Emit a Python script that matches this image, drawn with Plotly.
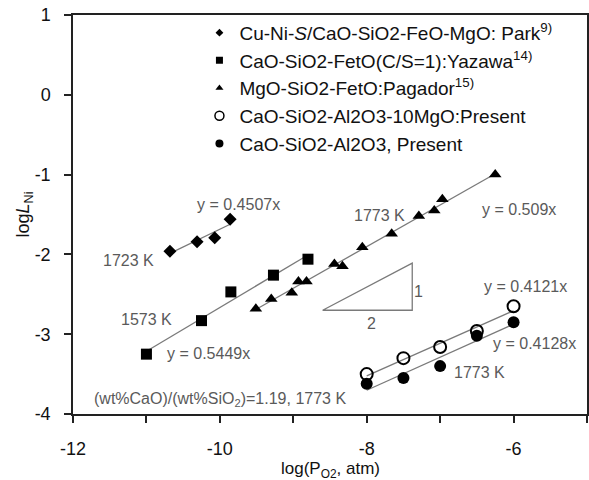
import numpy as np
import plotly.graph_objects as go

# ---------------- data ----------------
park_x = [-10.68, -10.31, -10.07, -9.86]
park_y = [-1.96, -1.84, -1.79, -1.56]

yazawa_x = [-11.0, -10.25, -9.85, -9.27, -8.8]
yazawa_y = [-3.25, -2.83, -2.47, -2.26, -2.06]

pagador_x = [-9.51, -9.30, -9.02, -8.93, -8.82, -8.44, -8.33, -8.06, -7.66, -7.29, -7.08, -6.97, -6.25]
pagador_y = [-2.68, -2.56, -2.48, -2.34, -2.34, -2.12, -2.15, -1.91, -1.74, -1.52, -1.45, -1.31, -1.00]

mgo_x = [-8.0, -7.5, -7.0, -6.5, -6.0]
mgo_y = [-3.50, -3.30, -3.16, -2.96, -2.65]

pres_x = [-8.0, -7.5, -7.0, -6.5, -6.0]
pres_y = [-3.62, -3.55, -3.40, -3.02, -2.85]

legend_names = [
    "Cu-Ni-<i>S</i>/CaO-SiO2-FeO-MgO: Park<sup>9)</sup>",
    "CaO-SiO2-FetO(C/S=1):Yazawa<sup>14)</sup>",
    "MgO-SiO2-FetO:Pagador<sup>15)</sup>",
    "CaO-SiO2-Al2O3-10MgO:Present",
    "CaO-SiO2-Al2O3, Present",
]

x_ticks = [-12, -10, -8, -6]
x_labels = ["-12", "-10", "-8", "-6"]
y_ticks = [1, 0, -1, -2, -3, -4]
y_labels = ["1", "0", "-1", "-2", "-3", "-4"]

FONT = "Liberation Sans, Arial, sans-serif"
LINE_C = "#7a7a7a"
TXT_C = "#5a5a5a"

fig = go.Figure()

series = [
    (park_x, park_y, dict(symbol="diamond", size=10, color="black"), dict(symbol="diamond", size=6, color="black")),
    (yazawa_x, yazawa_y, dict(symbol="square", size=11, color="black"), dict(symbol="square", size=7, color="black")),
    (pagador_x, pagador_y, dict(symbol="triangle-up", size=11, color="black"), dict(symbol="triangle-up", size=7, color="black")),
    (mgo_x, mgo_y, dict(symbol="circle-open", size=12, color="black", line=dict(width=2)), dict(symbol="circle-open", size=9, color="black", line=dict(width=1.5))),
    (pres_x, pres_y, dict(symbol="circle", size=12, color="black"), dict(symbol="circle", size=8, color="black")),
]

# regression lines (from data)
for xs, ys, _, _ in series:
    xs_a = np.array(xs); ys_a = np.array(ys)
    k, b = np.polyfit(xs_a, ys_a, 1)
    xl = np.array([xs_a.min(), xs_a.max()])
    fig.add_trace(go.Scatter(x=xl, y=k * xl + b, mode="lines",
                             line=dict(color=LINE_C, width=1.3),
                             showlegend=False, hoverinfo="skip"))

for (xs, ys, mk, _), name in zip(series, legend_names):
    fig.add_trace(go.Scatter(x=xs, y=ys, mode="markers", marker=mk,
                             name=name, showlegend=False))

# legend-only entries with small symbols
for (_, _, _, lmk), name in zip(series, legend_names):
    fig.add_trace(go.Scatter(x=[None], y=[None], mode="markers", marker=lmk,
                             name=name, showlegend=True))

# slope triangle 1:2
fig.add_shape(type="path", path="M -8.60,-2.70 L -7.38,-2.70 L -7.38,-2.11 Z",
              line=dict(color=LINE_C, width=1.3))

ann = [
    (-9.75, -1.37, "y = 0.4507x", 16),
    (-11.24, -2.08, "1723 K", 16),
    (-11.0, -2.81, "1573 K", 16),
    (-10.16, -3.24, "y = 0.5449x", 16),
    (-7.83, -1.51, "1773 K", 16),
    (-5.93, -1.44, "y = 0.509x", 16),
    (-5.84, -2.40, "y = 0.4121x", 16),
    (-5.72, -3.12, "y = 0.4128x", 16),
    (-6.46, -3.48, "1773 K", 16),
    (-7.30, -2.47, "1", 16),
    (-7.93, -2.87, "2", 16),
    (-10.0, -3.82, "(wt%CaO)/(wt%SiO<sub>2</sub>)=1.19, 1773 K", 16),
]
for x, y, t, s in ann:
    fig.add_annotation(x=x, y=y, text=t, showarrow=False,
                       font=dict(family=FONT, size=s, color=TXT_C),
                       xanchor="center", yanchor="middle")

# x-axis title
fig.add_annotation(xref="paper", yref="paper", x=0.5, y=-0.141,
                   text="log(P<sub>O2</sub>, atm)", showarrow=False,
                   font=dict(family=FONT, size=17, color="#111"),
                   xanchor="center", yanchor="middle")

axis_line = dict(showline=True, linecolor="#222", linewidth=1.5, showgrid=False,
                 zeroline=False, tickcolor="#222", tickwidth=1.5, automargin=False)

fig.update_layout(
    width=589, height=480,
    margin=dict(l=73, r=2, t=15, b=66),
    plot_bgcolor="white", paper_bgcolor="white",
    font=dict(family=FONT, size=18, color="#111"),
    xaxis=dict(range=[-12, -5], tickvals=x_ticks, ticktext=x_labels, ticks="outside", ticklen=7,
               minor=dict(dtick=1, tick0=-12, ticks="outside", ticklen=7, tickcolor="#222", tickwidth=1.5),
               mirror=True, ticklabelstandoff=11,
               **axis_line),
    xaxis2=dict(range=[-12, -5], overlaying="x", side="top", dtick=1, tick0=-12,
                ticks="inside", ticklen=6, showticklabels=False, showgrid=False,
                zeroline=False, tickcolor="#222", tickwidth=1.5),
    yaxis=dict(range=[-4, 1], tickvals=y_ticks, ticktext=y_labels, ticks="outside", ticklen=7,
               mirror="ticks", ticklabelstandoff=10,
               title=dict(text="log<i>L</i><sub>Ni</sub>", font=dict(size=18), standoff=0),
               **axis_line),
    legend=dict(x=0.246, y=1.003, xanchor="left", yanchor="top",
                bgcolor="rgba(0,0,0,0)", font=dict(family=FONT, size=19, color="#111"),
                itemwidth=30, tracegroupgap=0),
    showlegend=True,
)

fig.write_html("out.html")
